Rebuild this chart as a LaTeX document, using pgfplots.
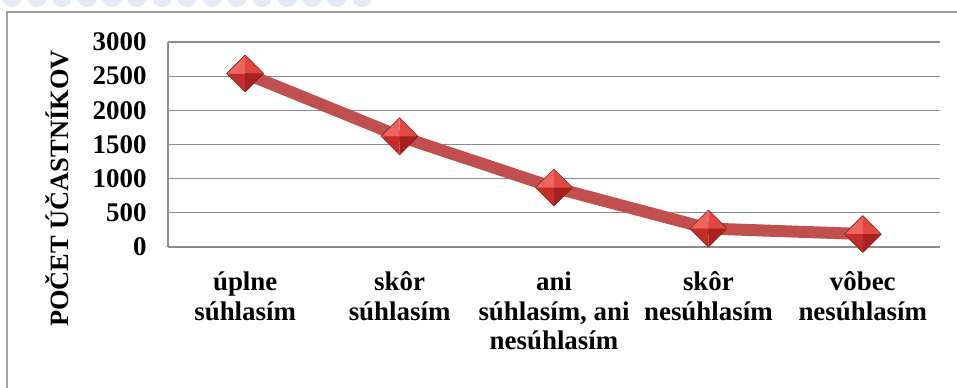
\documentclass[border=0pt]{standalone}
\usepackage{fontspec}
\setmainfont{LiberationSerif}[Extension=.ttf, UprightFont=*-Regular, BoldFont=*-Bold, ItalicFont=*-Italic, BoldItalicFont=*-BoldItalic]
\usepackage{pgfplots}
\pgfplotsset{compat=1.18}
\definecolor{linered}{RGB}{192,80,77}
\definecolor{gemA}{RGB}{240,100,94}
\definecolor{gemB}{RGB}{226,72,66}
\definecolor{gemC}{RGB}{196,46,42}
\definecolor{gemD}{RGB}{170,32,30}
\definecolor{gemE}{RGB}{140,30,28}
\definecolor{gridgray}{RGB}{140,140,140}
\definecolor{framegray}{RGB}{160,160,160}
\definecolor{bubble}{RGB}{226,235,246}
\pgfdeclareplotmark{gem}{%
  \pgfpathmoveto{\pgfqpoint{0pt}{\pgfplotmarksize}}%
  \pgfpathlineto{\pgfqpoint{-\pgfplotmarksize}{0pt}}%
  \pgfpathlineto{\pgfpointorigin}\pgfpathclose
  \pgfsetfillcolor{gemA}\pgfusepath{fill}%
  \pgfpathmoveto{\pgfqpoint{0pt}{\pgfplotmarksize}}%
  \pgfpathlineto{\pgfqpoint{\pgfplotmarksize}{0pt}}%
  \pgfpathlineto{\pgfpointorigin}\pgfpathclose
  \pgfsetfillcolor{gemB}\pgfusepath{fill}%
  \pgfpathmoveto{\pgfqpoint{0pt}{-\pgfplotmarksize}}%
  \pgfpathlineto{\pgfqpoint{-\pgfplotmarksize}{0pt}}%
  \pgfpathlineto{\pgfpointorigin}\pgfpathclose
  \pgfsetfillcolor{gemC}\pgfusepath{fill}%
  \pgfpathmoveto{\pgfqpoint{0pt}{-\pgfplotmarksize}}%
  \pgfpathlineto{\pgfqpoint{\pgfplotmarksize}{0pt}}%
  \pgfpathlineto{\pgfpointorigin}\pgfpathclose
  \pgfsetfillcolor{gemD}\pgfusepath{fill}%
  \pgfpathmoveto{\pgfqpoint{0pt}{\pgfplotmarksize}}%
  \pgfpathlineto{\pgfqpoint{\pgfplotmarksize}{0pt}}%
  \pgfpathlineto{\pgfqpoint{0pt}{-\pgfplotmarksize}}%
  \pgfpathlineto{\pgfqpoint{-\pgfplotmarksize}{0pt}}%
  \pgfpathclose
  \pgfsetstrokecolor{gemE}\pgfsetlinewidth{0.6pt}\pgfusepath{stroke}%
}
\begin{document}
\begin{tikzpicture}[x=1bp,y=1bp]
\useasboundingbox (0,0) rectangle (957,387);
% faint background bubbles at the top
\foreach \cx in {12,37,...,362}{\fill[bubble] (\cx,390) circle (10);}
% outer frame
\draw[framegray,line width=1.3bp] (7,-5) -- (7,375) -- (970,375);
\begin{axis}[
  at={(168bp,140bp)}, anchor=south west,
  scale only axis, width=772bp, height=205bp,
  xmin=-0.5, xmax=4.5, ymin=0, ymax=3000,
  xtick={0,1,2,3,4},
  xticklabels={{úplne\\súhlasím},{skôr\\súhlasím},{ani\\súhlasím, ani\\nesúhlasím},{skôr\\nesúhlasím},{vôbec\\nesúhlasím}},
  ytick={0,500,...,3000},
  axis x line*=bottom, axis y line*=left,
  axis line style={gridgray,line width=1.2bp,-},
  ymajorgrids, grid style={gridgray,line width=1.2bp},
  major tick length=0pt,
  /pgf/number format/assume math mode=true,
  /pgf/number format/1000 sep={},
  tick label style={font=\fontsize{27}{30}\selectfont\bfseries},
  xticklabel style={align=center, yshift=-21bp, anchor=north},
  yticklabel style={xshift=-18bp},
  ylabel={POČET ÚČASTNÍKOV},
  ylabel style={font=\fontsize{26.5}{30}\selectfont\bfseries, at={(axis description cs:-0.144,0.285)}, anchor=center, rotate=0},
  clip=false,
]
\addplot[linered, line width=12bp, line join=round, mark=gem, mark size=18.5bp, mark options={solid}]
  coordinates {(0,2540) (1,1620) (2,870) (3,270) (4,190)};
\end{axis}
\end{tikzpicture}
\end{document}
